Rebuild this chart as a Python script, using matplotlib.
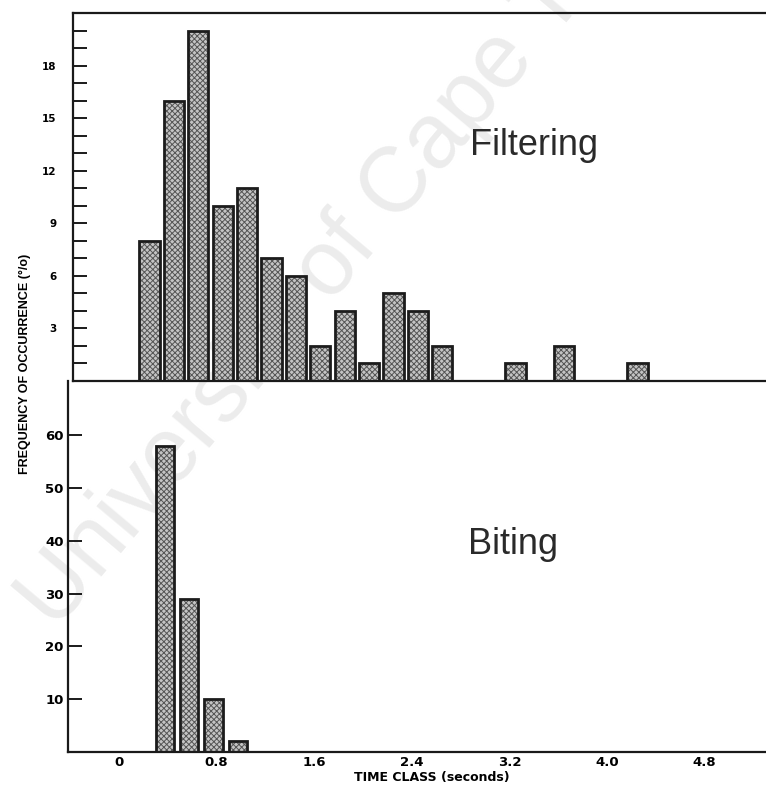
import numpy as np
import matplotlib
matplotlib.use("Agg")
import matplotlib.pyplot as plt

# frequency of occurrence (%) per 0.2 s time class
filter_pct = [8, 16, 20, 10, 11, 7, 6, 2, 4, 1, 5, 4, 2, 0, 0, 1, 0, 2, 0, 0, 1]
filter_t = [0.25 + 0.2 * i for i in range(len(filter_pct))]

bite_pct = [58, 29, 10, 2]
bite_t = [0.375 + 0.2 * i for i in range(len(bite_pct))]

time_ticks = [0, 0.8, 1.6, 2.4, 3.2, 4.0, 4.8]
time_labels = ["0", "0.8", "1.6", "2.4", "3.2", "4.0", "4.8"]
filter_yticks = [3, 6, 9, 12, 15, 18]
bite_yticks = [10, 20, 30, 40, 50, 60]

W, H = 766, 786
plt.rcParams["hatch.linewidth"] = 0.7
fig = plt.figure(figsize=(W / 100, H / 100), dpi=100)

# pixel layout helpers
px_per_s = 122.0
x_zero = 119.0


def ax_rect(left, top, bottom, right=W):
    return [left / W, 1 - bottom / H, (right - left) / W, (bottom - top) / H]


def xlim_for(left_px):
    return ((left_px - x_zero) / px_per_s, (W - x_zero) / px_per_s)


ax1 = fig.add_axes(ax_rect(73, 13, 381))
ax2 = fig.add_axes(ax_rect(68, 381, 752))

# faint diagonal watermark behind the plots
fig.text(55 / W, 1 - 632 / H, "University of Cape Town", fontsize=66,
         color="#ececec", rotation=50, rotation_mode="anchor",
         ha="left", va="baseline", family="Liberation Sans", zorder=-1)


def draw_bars(ax, t, vals, width):
    t = np.asarray(t)
    vals = np.asarray(vals)
    keep = vals > 0
    ax.bar(t[keep], vals[keep], width=width, color="#c4c4c4",
           edgecolor="#555555", hatch="xxxxxx", linewidth=0, zorder=2)
    ax.bar(t[keep], vals[keep], width=width, fill=False,
           edgecolor="#1c1c1c", linewidth=2.0, zorder=3)


draw_bars(ax1, filter_t, filter_pct, 0.165)
draw_bars(ax2, bite_t, bite_pct, 0.15)

tick_font = dict(family="DejaVu Sans", fontweight="bold")

for ax in (ax1, ax2):
    ax.set_facecolor("none")
    ax.spines["right"].set_visible(False)
    for s in ax.spines.values():
        s.set_linewidth(1.6)
        s.set_color("#1a1a1a")

ax1.set_xlim(*xlim_for(73))
ax1.set_ylim(0, 21)
ax1.set_xticks([])
ax1.set_yticks(range(1, 21), minor=True)
ax1.set_yticks(filter_yticks)
ax1.set_yticklabels([str(v) for v in filter_yticks], fontsize=7.5, **tick_font)
ax1.tick_params(axis="y", which="both", direction="in", length=10,
                width=1.4, color="#1a1a1a", pad=12)

ax2.spines["top"].set_visible(False)
ax2.set_xlim(*xlim_for(68))
ax2.set_ylim(0, 70.3)
ax2.set_yticks(bite_yticks)
ax2.set_yticklabels([str(v) for v in bite_yticks], fontsize=9.5, **tick_font)
ax2.tick_params(axis="y", direction="in", length=10, width=1.4,
                color="#1a1a1a", pad=3)
ax2.set_xticks(time_ticks)
ax2.set_xticklabels(time_labels, fontsize=9.5, **tick_font)
ax2.tick_params(axis="x", length=0, pad=3)

ax1.text(0.573, 0.641, "Filtering", transform=ax1.transAxes, fontsize=26,
         family="Liberation Sans", color="#2a2a2a", ha="left", va="center")
ax2.text(0.573, 0.558, "Biting", transform=ax2.transAxes, fontsize=26,
         family="Liberation Sans", color="#2a2a2a", ha="left", va="center")

fig.text(432 / W, 1 - 778 / H, "TIME CLASS (seconds)", fontsize=9,
         ha="center", va="center", **tick_font)
fig.text(25 / W, 1 - 364 / H, "FREQUENCY OF OCCURRENCE (°/o)", fontsize=9,
         rotation=90, ha="center", va="center", family="Liberation Sans",
         fontweight="bold")

fig.savefig("out.png", dpi=100)
